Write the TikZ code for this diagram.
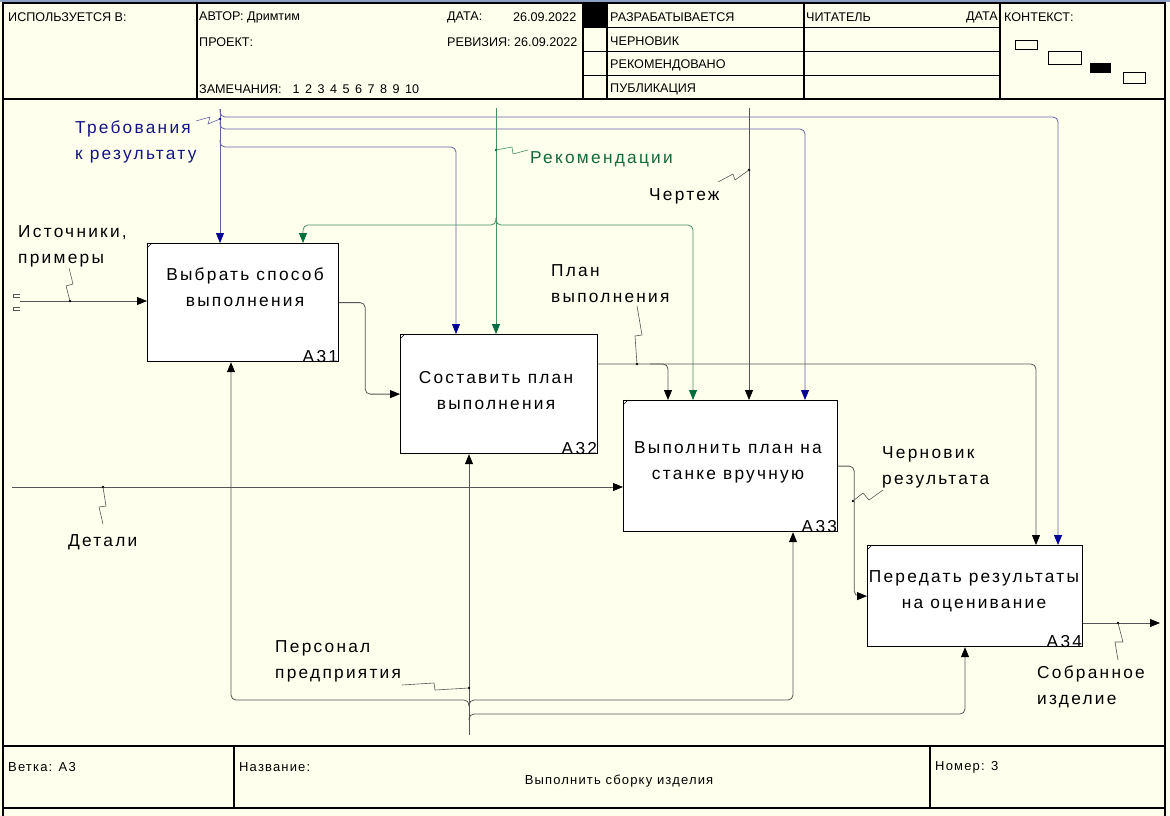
\documentclass[tikz,border=0pt]{standalone}
\usepackage{fontspec}
\setmainfont{Liberation Sans}
\newfontfamily\lblfont[LetterSpace=13]{Liberation Sans}
\newfontfamily\hdrfont{Liberation Sans}
\newfontfamily\botfont[LetterSpace=9]{Liberation Sans}
\usetikzlibrary{arrows.meta}
\definecolor{bg}{RGB}{255,255,238}
\definecolor{band}{RGB}{140,160,195}
\definecolor{lgray}{RGB}{85,85,85}
\definecolor{bline}{RGB}{100,100,165}
\definecolor{bhead}{RGB}{0,0,150}
\definecolor{gline}{RGB}{70,145,100}
\definecolor{ghead}{RGB}{0,110,60}
\definecolor{navytxt}{RGB}{20,20,130}
\definecolor{greentxt}{RGB}{20,105,60}
\newcommand\mybig{\lblfont\fontsize{17.3}{26}\selectfont}
\newcommand\myhdr{\hdrfont\fontsize{12.6}{14}\selectfont}
\newcommand\mybot{\botfont\fontsize{13}{14}\selectfont}
\newcommand\dsp{\hspace{5.5pt}}
\begin{document}
\begin{tikzpicture}[x=1pt,y=-1pt,
  frame/.style={draw=black,line width=1.2pt},
  thinframe/.style={draw=black,line width=0.9pt},
  box/.style={draw=black,fill=white,line width=1.2pt,anchor=north west,inner sep=0pt},
  lbl/.style={font=\mybig,anchor=west,align=left,inner sep=0pt},
  btext/.style={font=\mybig,align=center,inner sep=0pt},
  num/.style={font=\mybig,anchor=south east,inner sep=0pt},
  hdr/.style={font=\myhdr,anchor=west,inner sep=0pt},
  bot/.style={font=\mybot,anchor=west,inner sep=0pt},
  conn/.style={draw=lgray,line width=0.8pt,rounded corners=5pt},
  arr/.style={conn,-{Triangle[length=10pt,width=8pt,color=black]}},
  barr/.style={draw=bline,line width=0.8pt,rounded corners=5pt,-{Triangle[length=10pt,width=8pt,color=bhead]}},
  garr/.style={draw=gline,line width=0.8pt,rounded corners=5pt,-{Triangle[length=10pt,width=8pt,color=ghead]}},
  sq/.style={draw=lgray,line width=0.6pt},
  bsq/.style={draw=bline,line width=0.6pt},
  gsq/.style={draw=gline,line width=0.6pt},
  tick/.style={draw=black,line width=0.5pt}]
\useasboundingbox (0,0) rectangle (1170,816);
\fill[bg] (0,0) rectangle (1170,816);
\fill[band] (0,0) rectangle (1170,2);

% ---------- frame and header ----------
\draw[frame] (3,816) -- (3,3) -- (1165,3) -- (1165,816);
\draw[frame] (3,99) -- (1165,99);
\draw[frame] (197,3) -- (197,99);
\draw[frame] (583,3) -- (583,99);
\draw[frame] (607,3) -- (607,99);
\draw[frame] (804,3) -- (804,99);
\draw[frame] (1000,3) -- (1000,99);
\draw[thinframe] (583,27) -- (1000,27);
\draw[thinframe] (583,51) -- (1000,51);
\draw[thinframe] (583,75) -- (1000,75);
\fill[black] (583,3) rectangle (607,27);
\draw[thinframe] (1015,40) rectangle (1037,49);
\draw[thinframe] (1048,51) rectangle (1081,64);
\fill[black] (1090,63) rectangle (1111,73);
\draw[thinframe] (1123,72) rectangle (1145,83);

\node[hdr] (h1) at (8,17) {ИСПОЛЬЗУЕТСЯ В:};
\node[hdr] (h2) at (199,17) {АВТОР: Дримтим};
\node[hdr] (h3) at (447,17) {ДАТА:};
\node[hdr] (h4) at (513,17) {26.09.2022};
\node[hdr] (h5) at (199,42) {ПРОЕКТ:};
\node[hdr] (h6) at (447,42) {РЕВИЗИЯ: 26.09.2022};
\node[hdr] (h7) at (199,89) {ЗАМЕЧАНИЯ:\dsp\dsp 1\dsp 2\dsp 3\dsp 4\dsp 5\dsp 6\dsp 7\dsp 8\dsp 9\dsp 10};
\node[hdr] (h8) at (610,17) {РАЗРАБАТЫВАЕТСЯ};
\node[hdr] (h9) at (610,41) {ЧЕРНОВИК};
\node[hdr] (h10) at (610,65) {РЕКОМЕНДОВАНО};
\node[hdr] (h11) at (610,89) {ПУБЛИКАЦИЯ};
\node[hdr] (h12) at (806,17) {ЧИТАТЕЛЬ};
\node[hdr,anchor=east] (h13) at (998,17) {ДАТА};
\node[hdr] (h14) at (1004,17) {КОНТЕКСТ:};

% ---------- footer ----------
\draw[frame] (3,746) -- (1165,746);
\draw[frame] (3,808) -- (1165,808);
\draw[frame] (234,746) -- (234,808);
\draw[frame] (930,746) -- (930,808);
\node[bot] (f1) at (8,767) {Ветка: A3};
\node[bot] (f2) at (239,767) {Название:};
\node[bot,anchor=center] (f3) at (619,781) {Выполнить сборку изделия};
\node[bot] (f4) at (935,767) {Номер: 3};

% ---------- boxes ----------
\node[box,minimum width=191pt,minimum height=118pt] (A31) at (147,243) {};
\node[box,minimum width=197pt,minimum height=119pt] (A32) at (400,334) {};
\node[box,minimum width=214pt,minimum height=131pt] (A33) at (623,400) {};
\node[box,minimum width=215pt,minimum height=101pt] (A34) at (867,545) {};
\foreach \b in {A31,A32,A33,A34}{\draw[tick] (\b.north west) ++(0,5) -- ++(5,-5);}

\node[btext] (t31) at (245,287) {Выбрать способ\\выполнения};
\node[btext] (t32) at (496,391) {Составить план\\выполнения};
\node[btext] (t33) at (728,462) {Выполнить план на\\станке вручную};
\node[btext] (t34) at (974,591) {Передать результаты\\на оценивание};
\node[num] (n31) at ([xshift=-1pt,yshift=-1pt]A31.south east) {A31};
\node[num] (n32) at ([xshift=-1pt,yshift=-1pt]A32.south east) {A32};
\node[num] (n33) at ([xshift=-1pt,yshift=-1pt]A33.south east) {A33};
\node[num] (n34) at ([xshift=-1pt,yshift=-1pt]A34.south east) {A34};

% ---------- input: Источники, примеры ----------
\coordinate (srcI) at (20,301);
\draw[sq] (20,294) -- (13,294) -- (13,297) -- (20,297);
\draw[sq] (20,307) -- (13,307) -- (13,310) -- (20,310);
\draw[arr] (srcI) -- (A31.west |- srcI);
\fill (70,301) circle (1.4pt);
\draw[sq] (70,301) -- (66,286) -- (73,284) -- (69,268);
\node[lbl] (lsrc) at (18,246) {Источники,\\примеры};

% ---------- control: Требования к результату (blue) ----------
\coordinate (trTop) at (220,109);
\coordinate (tr1) at (1058,117);
\coordinate (tr2) at (805,129);
\coordinate (tr3) at (456,147);
\draw[barr] (trTop) |- (tr1) -- (A34.north -| tr1);
\draw[barr] (220,122) |- (tr2) -- (A33.north -| tr2);
\draw[barr] (220,140) |- (tr3) -- (A32.north -| tr3);
\draw[barr] (trTop) -- (A31.north -| trTop);
\fill[bhead] (220,119) circle (1.4pt);
\draw[bsq] (220,119) -- (208,124) -- (210,117) -- (196,121);
\node[lbl,text=navytxt] (ltr) at (75,142) {Требования\\к результату};

% ---------- control: Рекомендации (green) ----------
\coordinate (recTop) at (496,108);
\coordinate (rec1) at (303,225);
\coordinate (rec2) at (693,225);
\draw[garr] (496,218) |- (rec1) -- (A31.north -| rec1);
\draw[garr] (496,218) |- (rec2) -- (A33.north -| rec2);
\draw[garr] (recTop) -- (A32.north -| recTop);
\fill[ghead] (496,150) circle (1.4pt);
\draw[gsq] (496,150) -- (512,147) -- (513,154) -- (528,150);
\node[lbl,text=greentxt] (lrec) at (530,159) {Рекомендации};

% ---------- control: Чертеж ----------
\coordinate (chTop) at (749,108);
\draw[arr] (chTop) -- (A33.north -| chTop);
\fill (749,170) circle (1.4pt);
\draw[sq] (749,170) -- (735,180) -- (733,174) -- (718,182);
\node[lbl] (lch) at (649,196) {Чертеж};

% ---------- A31 -> A32 ----------
\draw[arr] (A31.east) -- ++(26,0) |- (A32.west);

% ---------- A32 output: План выполнения ----------
\coordinate (p0) at (597,364);
\coordinate (p1) at (1036,364);
\coordinate (p2) at (668,364);
\draw[arr] (A32.east |- p0) -- (p1) -- (A34.north -| p1);
\draw[arr] (650,364) -- (p2) -- (A33.north -| p2);
\fill (637,364) circle (1.4pt);
\draw[sq] (637,364) -- (635,336) -- (642,335) -- (637,306);
\node[lbl] (lplan) at (551,284) {План\\выполнения};

% ---------- input: Детали ----------
\coordinate (detIn) at (12,487);
\draw[arr] (detIn) -- (A33.west |- detIn);
\fill (103,487) circle (1.4pt);
\draw[sq] (103,487) -- (106,506) -- (99,507) -- (103,524);
\node[lbl] (ldet) at (68,542) {Детали};

% ---------- A33 -> A34: Черновик результата ----------
\draw[arr] (A33.east) -- ++(16,0) |- (A34.west);
\fill (853,501) circle (1.4pt);
\draw[sq] (853,501) -- (863,493) -- (869,500) -- (883,490);
\node[lbl] (ldraft) at (882,467) {Черновик\\результата};

% ---------- A34 output: Собранное изделие ----------
\coordinate (outE) at (1160,623);
\draw[arr] (A34.east |- outE) -- (outE);
\fill (1118,623) circle (1.4pt);
\draw[sq] (1118,623) -- (1123,642) -- (1115,642) -- (1118,660);
\node[lbl] (lout) at (1037,687) {Собранное\\изделие};

% ---------- mechanism: Персонал предприятия ----------
\coordinate (perBot) at (469,735);
\coordinate (m1) at (231,700);
\coordinate (m3) at (793,700);
\coordinate (m4) at (965,714);
\draw[arr] (469,706) |- (m1) -- (A31.south -| m1);
\draw[arr] (469,706) |- (m3) -- (A33.south -| m3);
\draw[arr] (469,720) |- (m4) -- (A34.south -| m4);
\draw[arr] (perBot) -- (A32.south -| perBot);
\fill (469,688) circle (1.4pt);
\draw[sq] (469,688) -- (435,690) -- (434,683) -- (402,685);
\node[lbl] (lper) at (275,661) {Персонал\\предприятия};
\end{tikzpicture}
\end{document}
